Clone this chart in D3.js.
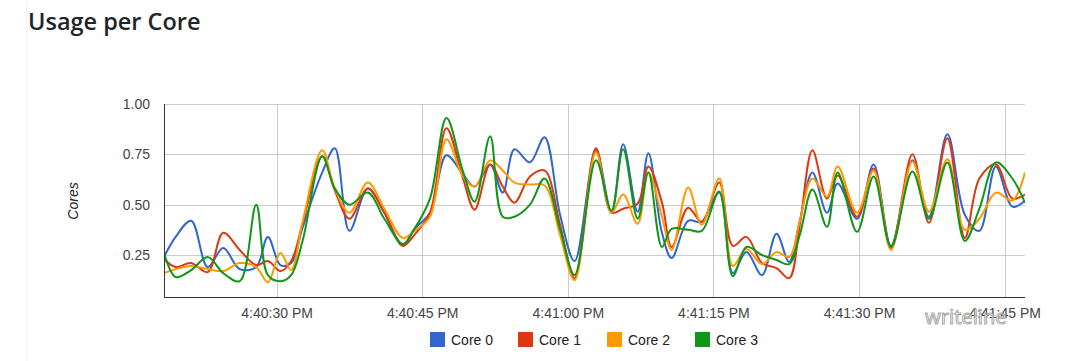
<!DOCTYPE html>
<html><head><meta charset="utf-8">
<script src="https://cdn.jsdelivr.net/npm/d3@7"></script>
<style>
html,body{margin:0;padding:0;background:#fff;}
svg{display:block;}
</style></head>
<body>
<svg id="chart" width="1066" height="361"></svg>
<script>
// seconds after 4:40:00 PM
const times = [18.4,19.6,21.2,22.9,24.5,26.2,27.9,29.1,30.4,31.5,32.7,34.7,36.0,37.5,39.4,41.1,43.0,44.2,45.8,47.5,49.2,50.4,52.0,53.3,54.5,56.1,57.6,59.2,60.7,62.9,64.5,65.7,67.2,68.3,69.7,70.7,72.4,73.8,75.6,77.0,78.4,80.0,81.5,82.8,83.9,85.2,86.7,87.8,89.8,91.5,93.3,95.5,97.2,99.1,100.9,102.4,104.1,105.8,107.1];
const core0 = [0.24,0.34,0.42,0.19,0.285,0.18,0.19,0.34,0.20,0.21,0.39,0.66,0.78,0.37,0.58,0.46,0.30,0.38,0.46,0.745,0.65,0.59,0.70,0.56,0.775,0.71,0.835,0.45,0.22,0.77,0.46,0.80,0.465,0.755,0.36,0.235,0.42,0.415,0.56,0.16,0.265,0.15,0.355,0.215,0.42,0.66,0.46,0.605,0.43,0.70,0.295,0.72,0.44,0.85,0.45,0.37,0.69,0.49,0.52];
const core1 = [0.23,0.19,0.21,0.165,0.36,0.275,0.20,0.22,0.17,0.22,0.41,0.74,0.57,0.43,0.58,0.46,0.295,0.35,0.46,0.88,0.63,0.475,0.70,0.59,0.51,0.64,0.67,0.40,0.135,0.78,0.46,0.48,0.505,0.69,0.51,0.29,0.485,0.415,0.61,0.295,0.34,0.21,0.185,0.135,0.40,0.77,0.53,0.645,0.44,0.68,0.285,0.75,0.41,0.83,0.335,0.63,0.70,0.53,0.55];
const core2 = [0.16,0.18,0.195,0.18,0.17,0.21,0.19,0.115,0.26,0.175,0.42,0.77,0.58,0.46,0.61,0.48,0.335,0.37,0.44,0.825,0.64,0.59,0.72,0.67,0.61,0.60,0.595,0.35,0.125,0.76,0.46,0.55,0.405,0.66,0.44,0.275,0.585,0.40,0.63,0.195,0.28,0.205,0.265,0.24,0.42,0.63,0.54,0.69,0.46,0.67,0.275,0.715,0.465,0.725,0.375,0.43,0.56,0.52,0.66];
const core3 = [0.26,0.14,0.175,0.24,0.16,0.12,0.50,0.15,0.12,0.15,0.325,0.74,0.58,0.50,0.56,0.43,0.305,0.38,0.53,0.93,0.665,0.515,0.84,0.44,0.44,0.50,0.63,0.38,0.15,0.72,0.47,0.775,0.43,0.66,0.29,0.38,0.375,0.37,0.565,0.145,0.29,0.25,0.225,0.205,0.35,0.575,0.39,0.66,0.365,0.64,0.29,0.665,0.43,0.71,0.32,0.48,0.71,0.63,0.51];
const seriesNames = ["Core 0","Core 1","Core 2","Core 3"];
const seriesColors = ["#3366cc","#dc3912","#ff9900","#109618"];
const yTicks = [0.25,0.50,0.75,1.00];
const xTickSeconds = [30,45,60,75,90,105];
const title = "Usage per Core";
const yTitle = "Cores";

const base = new Date(2020,0,1,16,40,0);
const toDate = s => new Date(base.getTime() + s*1000);
const allSeries = [core0,core1,core2,core3];

const svg = d3.select("#chart");
const L = 164, R = 1025, T = 104, B = 297;

const x = d3.scaleTime().domain([toDate(times[0]), toDate(times[times.length-1])]).range([L, R]);
const y = d3.scaleLinear().domain([0.0414, 1.0]).range([B, T]);

// faint card edge
svg.append("line").attr("x1",26.5).attr("x2",26.5).attr("y1",0).attr("y2",361)
  .attr("stroke","#f3f3f3").attr("stroke-width",1);

svg.append("text").attr("x",28).attr("y",30).text(title)
  .attr("font-family","'Open Sans', 'Noto Sans', sans-serif").attr("font-weight",600)
  .attr("font-size",23.5).attr("fill","#212529");

// grid
const g = svg.append("g");
g.selectAll("line.hg").data(yTicks).join("line")
  .attr("x1",L).attr("x2",R).attr("y1",d=>Math.round(y(d))+0.5).attr("y2",d=>Math.round(y(d))+0.5)
  .attr("stroke","#cccccc").attr("stroke-width",1);
const xTicks = xTickSeconds.map(toDate);
g.selectAll("line.vg").data(xTicks).join("line")
  .attr("x1",d=>Math.round(x(d))+0.5).attr("x2",d=>Math.round(x(d))+0.5).attr("y1",T).attr("y2",B)
  .attr("stroke","#cccccc").attr("stroke-width",1);

// axes via d3 axis
const yAxis = d3.axisLeft(y).tickValues(yTicks).tickFormat(d3.format(".2f")).tickSize(0).tickPadding(14);
const ya = svg.append("g").attr("transform",`translate(${L},0)`).call(yAxis);
ya.select(".domain").remove();
ya.selectAll("text").attr("font-family","Arial, 'Liberation Sans', sans-serif").attr("font-size",14).attr("fill","#444");

const xAxis = d3.axisBottom(x).tickValues(xTicks).tickFormat(d3.timeFormat("%-I:%M:%S %p")).tickSize(0).tickPadding(11);
const xa = svg.append("g").attr("transform",`translate(0,${B})`).call(xAxis);
xa.select(".domain").remove();
xa.selectAll("text").attr("font-family","Arial, 'Liberation Sans', sans-serif").attr("font-size",14).attr("fill","#444");

// clip
svg.append("defs").append("clipPath").attr("id","clip").append("rect")
  .attr("x",L).attr("y",T-20).attr("width",R-L).attr("height",B-T+20);

const line = d3.line().x((d,i)=>x(toDate(times[i]))).y(d=>y(d)).curve(d3.curveCatmullRom.alpha(0.5));
const lines = svg.append("g").attr("clip-path","url(#clip)");
allSeries.forEach((s,k)=>{
  lines.append("path").datum(s).attr("d",line).attr("fill","none")
    .attr("stroke",seriesColors[k]).attr("stroke-width",2).attr("stroke-linejoin","round");
});

// axis lines
svg.append("line").attr("x1",L+0.5).attr("x2",L+0.5).attr("y1",T).attr("y2",B+1).attr("stroke","#333").attr("stroke-width",1);
svg.append("line").attr("x1",L).attr("x2",R).attr("y1",B+0.5).attr("y2",B+0.5).attr("stroke","#333").attr("stroke-width",1);

// y title
svg.append("text").attr("transform",`translate(78,201) rotate(-90)`).attr("text-anchor","middle")
  .attr("font-family","Arial, 'Liberation Sans', sans-serif").attr("font-size",14).attr("font-style","italic")
  .attr("fill","#222").text(yTitle);

// legend
const legendX = [430,518,607,695];
const lg = svg.append("g");
seriesNames.forEach((n,k)=>{
  lg.append("rect").attr("x",legendX[k]).attr("y",332).attr("width",15).attr("height",15).attr("fill",seriesColors[k]);
  lg.append("text").attr("x",legendX[k]+21).attr("y",345).text(n)
    .attr("font-family","Arial, 'Liberation Sans', sans-serif").attr("font-size",14).attr("fill","#222");
});

// watermark
svg.append("text").attr("x",925).attr("y",324).text("writeline")
  .attr("font-family","'Noto Sans', sans-serif").attr("font-size",20)
  .attr("fill","#fff").attr("stroke","#999").attr("stroke-width",1).attr("opacity",0.85);
</script>
</body></html>
